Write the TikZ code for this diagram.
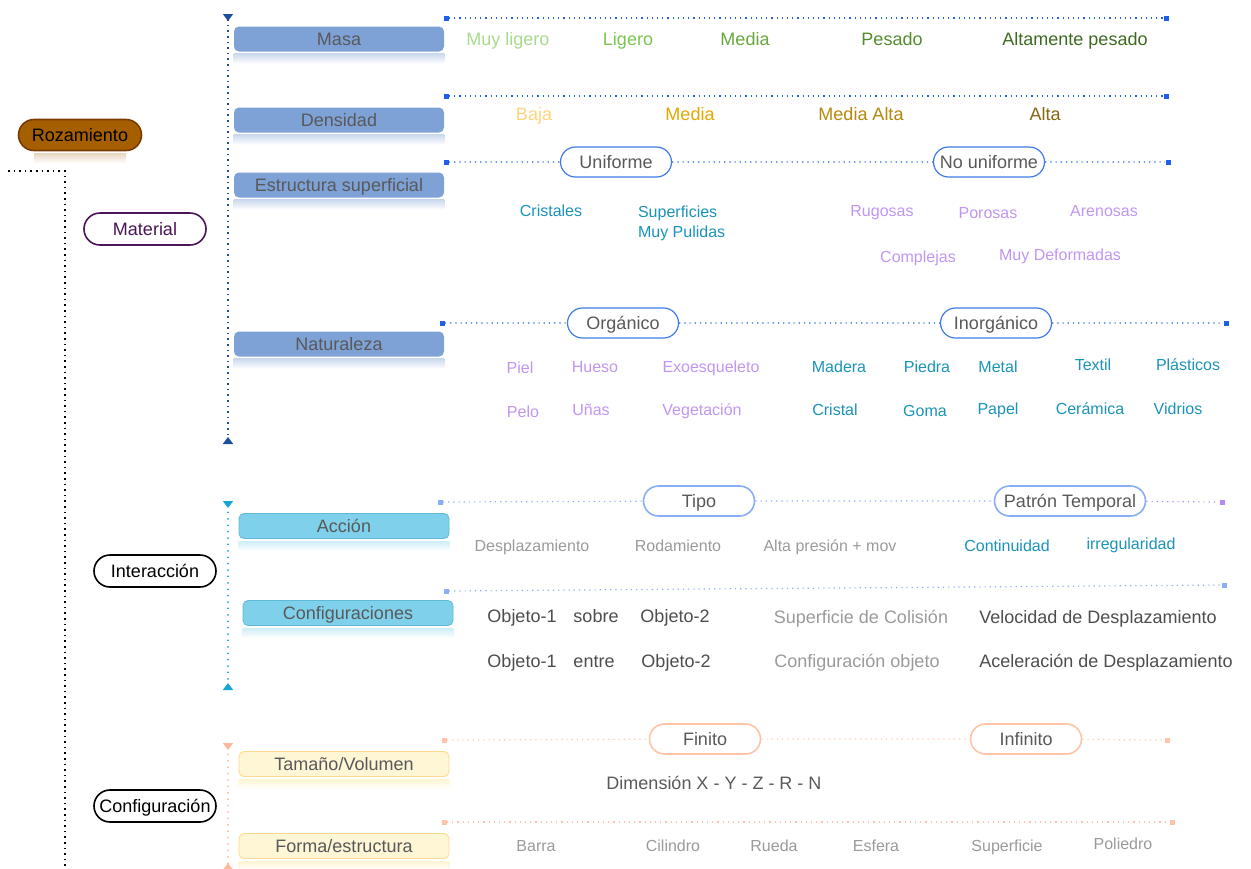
\documentclass[tikz,border=0pt]{standalone}
\usepackage{fontspec}
\setmainfont{Liberation Sans}
\usepackage{tikz}
\usetikzlibrary{arrows.meta, positioning, shapes.misc}

\definecolor{rozFill}{HTML}{A55F00}
\definecolor{rozDraw}{HTML}{7A3A00}
\definecolor{matPurple}{HTML}{4A1458}
\definecolor{matBox}{HTML}{7EA1D6}
\definecolor{matLine}{HTML}{1D4E9E}
\definecolor{hBlue}{HTML}{1F5FE8}
\definecolor{pillBlue}{HTML}{3F7BE8}
\definecolor{intBox}{HTML}{7FD1EB}
\definecolor{intDraw}{HTML}{5FB8D5}
\definecolor{intLine}{HTML}{19A7D6}
\definecolor{lightBlue}{HTML}{88AEF5}
\definecolor{endPurple}{HTML}{B58AF0}
\definecolor{cfgLine}{HTML}{FFB89A}
\definecolor{salmon}{HTML}{FFC4A8}
\definecolor{cfgBox}{HTML}{FFF6D6}
\definecolor{cfgDraw}{HTML}{FFD98C}
\definecolor{txtGray}{HTML}{595959}
\definecolor{txtDark}{HTML}{4D4D4D}
\definecolor{txtLight}{HTML}{9A9A9A}
\definecolor{teal}{HTML}{1A93B8}
\definecolor{lilac}{HTML}{C195F2}
\definecolor{gA}{HTML}{A8DA8C}
\definecolor{gB}{HTML}{7CC552}
\definecolor{gC}{HTML}{68A63C}
\definecolor{gD}{HTML}{558C30}
\definecolor{gE}{HTML}{3E6A20}
\definecolor{yA}{HTML}{FFD37C}
\definecolor{yB}{HTML}{E0A800}
\definecolor{yC}{HTML}{B8860B}
\definecolor{yD}{HTML}{866510}

\begin{document}
\begin{tikzpicture}[x=0.5pt, y=-0.5pt,
  big/.style={font=\fontsize{9}{11}\selectfont, text height=6.6pt, text depth=0pt},
  small/.style={font=\fontsize{8}{10}\selectfont, text height=5.9pt, text depth=0pt},
  top/.style={rounded rectangle, draw=black, fill=white, line width=0.8pt,
              minimum width=63pt, minimum height=16pt, inner xsep=1pt, big},
  pill/.style={rounded rectangle, fill=white, line width=0.6pt,
               minimum width=59.5pt, minimum height=15pt, inner xsep=2pt, big, text=txtGray},
  cat/.style={rectangle, rounded corners=2.5pt, minimum width=105pt,
              minimum height=12.5pt, inner sep=0pt, big, text=txtGray},
  endsq/.style={rectangle, minimum size=2.5pt, inner sep=0pt},
  hline/.style={dotted, line width=0.6pt},
  vline/.style={{Triangle[reversed, width=5pt, length=3.5pt]}-{Triangle[reversed, width=5pt, length=3.5pt]},
                dotted, line width=0.8pt},
  vdots/.style={line width=1pt, line cap=round, dash pattern=on 0pt off 3.2pt},
]
  \useasboundingbox (0,0) rectangle (1251,868);

  % Root and trunk
  \node[top, draw=rozDraw, fill=rozFill, minimum width=63.5pt, minimum height=15.5pt] (roz) at (80,135) {Rozamiento};
  \shade[top color=rozFill!25, bottom color=white] ([yshift=-1pt]roz.south west) rectangle ([yshift=-6pt]roz.south east);
  \coordinate (trunkA) at (8,171);
  \coordinate (trunkB) at (65,171);
  \coordinate (trunkC) at (65,868);
  \draw[dotted, line width=0.8pt] (trunkA) -- (trunkB) -- (trunkC);

  % ---------------- Material ----------------
  \node[top, draw=matPurple, text=matPurple] (material) at (145,229) {Material};
  \coordinate (matTop) at (228,14);
  \coordinate (matBot) at (228,444);
  \draw[vline, matLine] (matTop) -- (matBot);

  \node[cat, fill=matBox] (masa) at (339,39) {Masa};
  \node[cat, fill=matBox] (dens) at (339,120) {Densidad};
  \node[cat, fill=matBox] (estr) at (339,185) {Estructura superficial};
  \node[cat, fill=matBox] (natu) at (339,344) {Naturaleza};
  \foreach \b in {masa,dens,estr,natu}
    \shade[top color=matBox!40, bottom color=white] ([yshift=-1pt]\b.south west) rectangle ([yshift=-6pt]\b.south east);

  % Masa
  \node[endsq, fill=hBlue] (masaL) at (446,18) {};
  \node[endsq, fill=hBlue] (masaR) at (1166,18) {};
  \draw[hline, hBlue] (masaL) -- (masaR);
  \node[big, text=gA] (m1) at (508,39) {Muy ligero};
  \node[big, text=gB] (m2) at (628,39) {Ligero};
  \node[big, text=gC] (m3) at (745,39) {Media};
  \node[big, text=gD] (m4) at (892,39) {Pesado};
  \node[big, text=gE] (m5) at (1075,39) {Altamente pesado};

  % Densidad
  \node[endsq, fill=hBlue] (densL) at (446,96) {};
  \node[endsq, fill=hBlue] (densR) at (1166,96) {};
  \draw[hline, hBlue] (densL) -- (densR);
  \node[big, text=yA] (d1) at (534,114) {Baja};
  \node[big, text=yB] (d2) at (690,114) {Media};
  \node[big, text=yC] (d3) at (861,114) {Media Alta};
  \node[big, text=yD] (d4) at (1045,114) {Alta};

  % Estructura superficial
  \node[endsq, fill=hBlue] (estrL) at (446,162) {};
  \node[pill, draw=pillBlue] (unif) at (616,162) {Uniforme};
  \node[pill, draw=pillBlue] (nounif) at (989,162) {No uniforme};
  \node[endsq, fill=hBlue] (estrR) at (1168,162) {};
  \draw[hline, hBlue] (estrL) -- (unif) -- (nounif) -- (estrR);
  \node[small, text=teal] (e1) at (551,211) {Cristales};
  \node[small, text=teal, align=left, anchor=north west] (e2) at (631,219) {Superficies\\Muy Pulidas};
  \node[small, text=lilac] (e3) at (882,211) {Rugosas};
  \node[small, text=lilac] (e4) at (988,213) {Porosas};
  \node[small, text=lilac] (e5) at (1104,211) {Arenosas};
  \node[small, text=lilac] (e6) at (918,257) {Complejas};
  \node[small, text=lilac] (e7) at (1060,255) {Muy Deformadas};

  % Naturaleza
  \node[endsq, fill=hBlue] (natuL) at (442,323) {};
  \node[pill, draw=pillBlue] (org) at (623,323) {Orgánico};
  \node[pill, draw=pillBlue] (inorg) at (996,323) {Inorgánico};
  \node[endsq, fill=hBlue] (natuR) at (1226,323) {};
  \draw[hline, hBlue] (natuL) -- (org) -- (inorg) -- (natuR);
  \node[small, text=lilac] (n1) at (520,368) {Piel};
  \node[small, text=lilac] (n2) at (595,367) {Hueso};
  \node[small, text=lilac] (n3) at (711,367) {Exoesqueleto};
  \node[small, text=teal] (n4) at (839,367) {Madera};
  \node[small, text=teal] (n5) at (927,367) {Piedra};
  \node[small, text=teal] (n6) at (998,367) {Metal};
  \node[small, text=teal] (n7) at (1093,365) {Textil};
  \node[small, text=teal] (n8) at (1188,365) {Plásticos};
  \node[small, text=lilac] (n9) at (523,412) {Pelo};
  \node[small, text=lilac] (n10) at (591,410) {Uñas};
  \node[small, text=lilac] (n11) at (702,410) {Vegetación};
  \node[small, text=teal] (n12) at (835,410) {Cristal};
  \node[small, text=teal] (n13) at (925,411) {Goma};
  \node[small, text=teal] (n14) at (998,409) {Papel};
  \node[small, text=teal] (n15) at (1090,409) {Cerámica};
  \node[small, text=teal] (n16) at (1178,409) {Vidrios};

  % ---------------- Interaccion ----------------
  \node[top] (inter) at (155,571) {Interacción};
  \coordinate (intTop) at (228,501);
  \coordinate (intBot) at (228,690);
  \draw[vline, vdots, intLine] (intTop) -- (intBot);

  \node[cat, fill=intBox, draw=intDraw] (accion) at (344,526) {Acción};
  \node[cat, fill=intBox, draw=intDraw] (confs) at (348,613) {Configuraciones};
  \foreach \b in {accion,confs}
    \shade[top color=intBox!35, bottom color=white] ([yshift=-1.5pt]\b.south west) rectangle ([yshift=-6pt]\b.south east);

  % Accion
  \node[endsq, fill=lightBlue] (accL) at (440,502) {};
  \node[pill, draw=lightBlue, line width=0.8pt] (tipo) at (699,501) {Tipo};
  \node[pill, draw=lightBlue, line width=0.8pt, minimum width=79.5pt] (patron) at (1070,501) {Patrón Temporal};
  \node[endsq, fill=endPurple] (accR) at (1222,502) {};
  \draw[hline, lightBlue] (accL) -- (tipo) -- (patron);
  \draw[hline, endPurple] (patron) -- (accR);
  \node[small, text=txtLight] (a1) at (532,546) {Desplazamiento};
  \node[small, text=txtLight] (a2) at (678,546) {Rodamiento};
  \node[small, text=txtLight] (a3) at (830,546) {Alta presión + mov};
  \node[small, text=teal] (a4) at (1007,546) {Continuidad};
  \node[small, text=teal] (a5) at (1131,544) {irregularidad};

  % Configuraciones
  \node[endsq, fill=lightBlue] (cfsL) at (446,591) {};
  \node[endsq, fill=lightBlue] (cfsR) at (1224,585) {};
  \draw[hline, lightBlue] (cfsL) -- (cfsR);
  \node[big, text=txtDark] (c1) at (522,616) {Objeto-1};
  \node[big, text=txtDark] (c2) at (596,616) {sobre};
  \node[big, text=txtDark] (c3) at (675,616) {Objeto-2};
  \node[big, text=txtLight] (c4) at (861,617) {Superficie de Colisión};
  \node[big, text=txtDark] (c5) at (1098,617) {Velocidad de Desplazamiento};
  \node[big, text=txtDark] (c6) at (522,661) {Objeto-1};
  \node[big, text=txtDark] (c7) at (594,661) {entre};
  \node[big, text=txtDark] (c8) at (676,661) {Objeto-2};
  \node[big, text=txtLight] (c9) at (857,661) {Configuración objeto};
  \node[big, text=txtDark] (c10) at (1106,661) {Aceleración de Desplazamiento};

  % ---------------- Configuracion ----------------
  \node[top] (config) at (155,806) {Configuración};
  \coordinate (cfgTop) at (228,743);
  \coordinate (cfgBot) at (228,870);
  \draw[vline, vdots, cfgLine] (cfgTop) -- (cfgBot);

  \node[cat, fill=cfgBox, draw=cfgDraw] (tam) at (344,764) {Tamaño/Volumen};
  \node[cat, fill=cfgBox, draw=cfgDraw] (forma) at (344,846) {Forma/estructura};
  \foreach \b in {tam,forma}
    \shade[top color=cfgBox, bottom color=white] ([yshift=-1.5pt]\b.south west) rectangle ([yshift=-6pt]\b.south east);

  % Tamano/Volumen
  \node[endsq, fill=salmon] (tamL) at (444,740) {};
  \node[pill, draw=salmon, line width=0.8pt] (finito) at (705,739) {Finito};
  \node[pill, draw=salmon, line width=0.8pt] (infinito) at (1026,739) {Infinito};
  \node[endsq, fill=salmon] (tamR) at (1167,740) {};
  \draw[hline, salmon] (tamL) -- (finito) -- (infinito) -- (tamR);
  \node[big, text=txtGray] (dim) at (714,783) {Dimensión X - Y - Z - R - N};

  % Forma/estructura
  \node[endsq, fill=salmon] (forL) at (444,822) {};
  \node[endsq, fill=salmon] (forR) at (1172,822) {};
  \draw[hline, salmon] (forL) -- (forR);
  \node[small, text=txtLight] (f1) at (536,846) {Barra};
  \node[small, text=txtLight] (f2) at (673,846) {Cilindro};
  \node[small, text=txtLight] (f3) at (774,846) {Rueda};
  \node[small, text=txtLight] (f4) at (876,846) {Esfera};
  \node[small, text=txtLight] (f5) at (1007,846) {Superficie};
  \node[small, text=txtLight] (f6) at (1123,844) {Poliedro};
\end{tikzpicture}
\end{document}
